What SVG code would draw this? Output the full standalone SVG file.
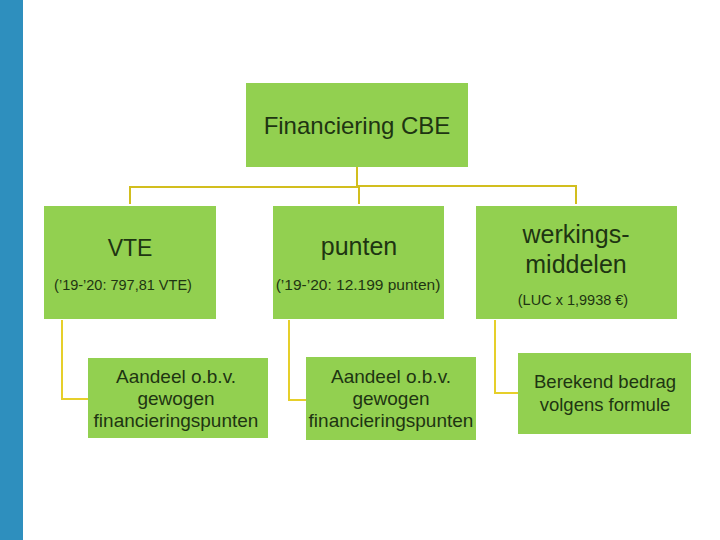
<svg xmlns="http://www.w3.org/2000/svg" width="720" height="540" viewBox="0 0 720 540">
<style>
.box{fill:#92D050;}
.t{font-family:"Liberation Sans",Arial,sans-serif;fill:#1E3512;text-anchor:middle;}
.big{font-size:24px;}
.sub{font-size:14.5px;}
.child{font-size:19px;}
.conn{fill:none;stroke:#D2BE1E;stroke-width:2;}
.conn2{fill:none;stroke:#E6CF2A;stroke-width:2;}
</style>
<rect x="0" y="0" width="720" height="540" fill="#FFFFFF"/>
<rect x="0" y="0" width="23" height="540" fill="#2E8FBE"/>
<g id="connectors">
<path class="conn" d="M357,167 V187 M130,204 V187 H359 V204 M357,186 H576 V204"/>
<path class="conn2" d="M62,320 V399 H88 M289,320 V400 H306 M495,320 V393 H518"/>
</g>
<g id="root">
<rect class="box" x="246" y="83" width="222" height="84"/>
<text class="t big" x="357" y="134">Financiering CBE</text>
</g>
<g id="vte">
<rect class="box" x="44" y="206" width="172" height="113"/>
<text class="t" x="130" y="256" font-size="23">VTE</text>
<text class="t sub" x="123" y="290">(’19-’20: 797,81 VTE)</text>
</g>
<g id="punten">
<rect class="box" x="273" y="206" width="171" height="113"/>
<text class="t" x="359" y="255" font-size="25">punten</text>
<text class="t" x="358" y="290" font-size="15.5">(’19-’20: 12.199 punten)</text>
</g>
<g id="werkingsmiddelen">
<rect class="box" x="476" y="206" width="201" height="113"/>
<text class="t" x="576" y="243" font-size="25">werkings-</text>
<text class="t" x="576" y="273" font-size="25">middelen</text>
<text class="t" x="573" y="305" font-size="14.5">(LUC x 1,9938 €)</text>
</g>
<g id="vte-child">
<rect class="box" x="88" y="358" width="180" height="80"/>
<text class="t child" x="176" y="383">Aandeel o.b.v.</text>
<text class="t child" x="176" y="405">gewogen</text>
<text class="t child" x="176" y="427">financieringspunten</text>
</g>
<g id="punten-child">
<rect class="box" x="306" y="357" width="170" height="83"/>
<text class="t child" x="391" y="383">Aandeel o.b.v.</text>
<text class="t child" x="391" y="405">gewogen</text>
<text class="t child" x="391" y="427">financieringspunten</text>
</g>
<g id="werk-child">
<rect class="box" x="518" y="353" width="173" height="81"/>
<text class="t" x="605" y="388" font-size="18.5">Berekend bedrag</text>
<text class="t" x="605" y="411" font-size="18.5">volgens formule</text>
</g>
</svg>
